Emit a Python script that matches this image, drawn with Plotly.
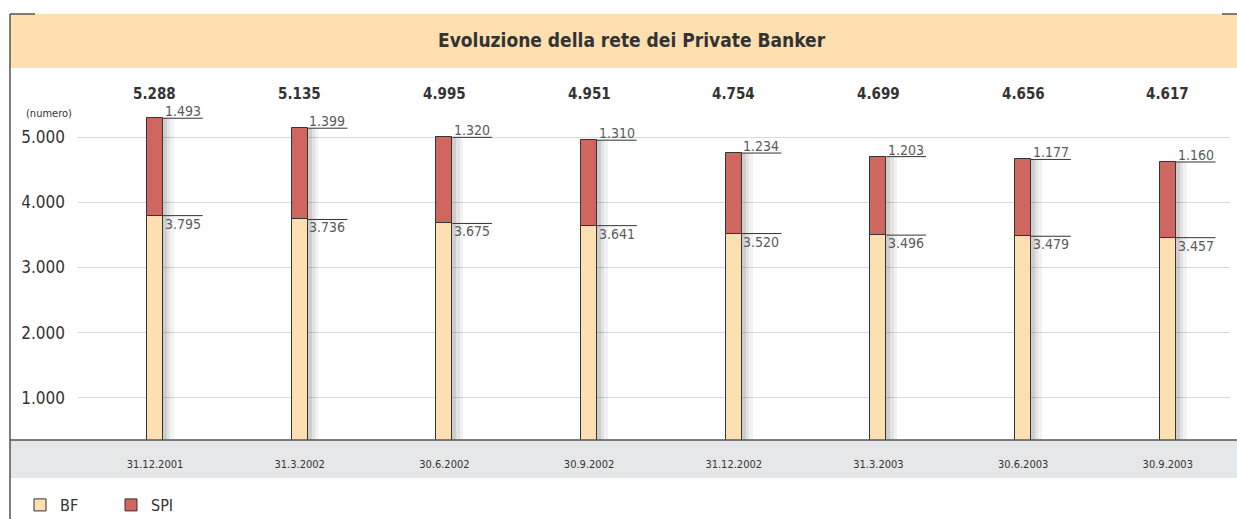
import plotly.graph_objects as go

categories = ["31.12.2001", "31.3.2002", "30.6.2002", "30.9.2002",
              "31.12.2002", "31.3.2003", "30.6.2003", "30.9.2003"]
bf_values = [3795, 3736, 3675, 3641, 3520, 3496, 3479, 3457]
spi_values = [1493, 1399, 1320, 1310, 1234, 1203, 1177, 1160]
totals = [5288, 5135, 4995, 4951, 4754, 4699, 4656, 4617]
y_ticks = [1000, 2000, 3000, 4000, 5000]

BF_COLOR = "#FDE0B2"
SPI_COLOR = "#CF6660"
BANNER = "#FDDFB0"
BAND = "#E6E7E8"
DARK = "#333333"
LABEL = "#5A5A5A"
FONT = "Liberation Sans Narrow, DejaVu Sans Condensed, Arial Narrow, Arial, sans-serif"

W, H = 1237, 519
L, R, T, B = 78, 7, 70, 79
PW, PH = W - L - R, H - T - B


def px_x(px):
    return (px - L) / PW


def px_y(py):
    return (H - B - py) / PH


def fmt(v):
    return f"{v:,}".replace(",", ".")


BAR_W = 0.11
fig = go.Figure()

# soft shadow on the right of each bar
for w, a in [(0.075, 0.05), (0.05, 0.06), (0.028, 0.09)]:
    fig.add_trace(go.Bar(x=categories, y=totals, base=0, width=w, offset=BAR_W / 2,
                         marker=dict(color=f"rgba(0,0,0,{a})", line=dict(width=0)),
                         showlegend=False, hoverinfo="skip"))

fig.add_trace(go.Bar(name="BF", x=categories, y=bf_values, width=BAR_W,
                     marker=dict(color=BF_COLOR, line=dict(color=DARK, width=1))))
fig.add_trace(go.Bar(name="SPI", x=categories, y=spi_values, base=bf_values, width=BAR_W,
                     marker=dict(color=SPI_COLOR, line=dict(color=DARK, width=1))))

shapes = []
annotations = []

# banner
shapes.append(dict(type="rect", xref="paper", yref="paper", x0=px_x(10), x1=px_x(1237),
                   y0=px_y(68), y1=px_y(14), fillcolor=BANNER, line=dict(width=0), layer="below"))
# bottom grey band
shapes.append(dict(type="rect", xref="paper", yref="paper", x0=px_x(10), x1=px_x(1237),
                   y0=px_y(478), y1=px_y(440), fillcolor=BAND, line=dict(width=0), layer="below"))
# baseline
shapes.append(dict(type="line", xref="paper", yref="paper", x0=px_x(10), x1=px_x(1237),
                   y0=px_y(440), y1=px_y(440), line=dict(color="#555555", width=1.5)))
# frame: left border and top corners
shapes.append(dict(type="line", xref="paper", yref="paper", x0=px_x(10), x1=px_x(10),
                   y0=px_y(519), y1=px_y(14), line=dict(color="#555555", width=1.5)))
shapes.append(dict(type="line", xref="paper", yref="paper", x0=px_x(10), x1=px_x(35),
                   y0=px_y(14), y1=px_y(14), line=dict(color="#555555", width=1.5)))
shapes.append(dict(type="line", xref="paper", yref="paper", x0=px_x(1222), x1=px_x(1237),
                   y0=px_y(14), y1=px_y(14), line=dict(color="#555555", width=1.5)))

# leader lines and value labels
for i, (bf, spi, tot) in enumerate(zip(bf_values, spi_values, totals)):
    x0 = i + BAR_W / 2
    x1 = i + 0.33
    shapes.append(dict(type="line", xref="x", yref="y", x0=x0, x1=x1, y0=tot, y1=tot,
                       line=dict(color=DARK, width=1)))
    shapes.append(dict(type="line", xref="x", yref="y", x0=x0, x1=x1, y0=bf, y1=bf,
                       line=dict(color=DARK, width=1)))
    annotations.append(dict(x=x1, y=tot, xref="x", yref="y", text=fmt(spi),
                            xanchor="right", yanchor="bottom", showarrow=False, yshift=-3,
                            font=dict(family=FONT, size=14, color=LABEL)))
    annotations.append(dict(x=x1, y=bf, xref="x", yref="y", text=fmt(bf),
                            xanchor="right", yanchor="top", showarrow=False, yshift=2,
                            font=dict(family=FONT, size=14, color=LABEL)))
    annotations.append(dict(x=i, y=px_y(94), xref="x", yref="paper", text=f"<b>{fmt(tot)}</b>",
                            xanchor="center", yanchor="middle", showarrow=False,
                            font=dict(family=FONT, size=15, color=DARK)))

# title
annotations.append(dict(x=px_x(632), y=px_y(40), xref="paper", yref="paper",
                        text="<b>Evoluzione della rete dei Private Banker</b>",
                        showarrow=False, xanchor="center", yanchor="middle",
                        font=dict(family=FONT, size=19, color=DARK)))
# unit label
annotations.append(dict(x=px_x(24), y=px_y(113), xref="paper", yref="paper",
                        text="(numero)", showarrow=False, xanchor="left", yanchor="middle",
                        font=dict(family=FONT, size=11, color=DARK)))

fig.update_layout(
    width=W, height=H,
    margin=dict(l=L, r=R, t=T, b=B, autoexpand=False),
    barmode="overlay",
    bargap=0,
    paper_bgcolor="white",
    plot_bgcolor="white",
    separators=",.",
    shapes=shapes,
    annotations=annotations,
    showlegend=True,
    legend=dict(orientation="h", x=px_x(20), y=px_y(505), xanchor="left", yanchor="middle",
                font=dict(family=FONT, size=16, color=DARK), entrywidth=46,
                entrywidthmode="pixels", itemwidth=30,
                traceorder="normal", bgcolor="rgba(0,0,0,0)"),
    xaxis=dict(type="category", range=[-0.532, 7.43], showgrid=False, showline=False,
               zeroline=False, ticks="", ticklabelstandoff=16,
               tickfont=dict(family=FONT, size=11, color=DARK)),
    yaxis=dict(range=[356, 6027], tickvals=y_ticks, tickformat=",d", showgrid=True,
               gridcolor="#D9D9D9", gridwidth=1, zeroline=False, showline=False,
               ticks="", ticklabelstandoff=12,
               tickfont=dict(family=FONT, size=17, color=DARK)),
)

fig.write_html("out.html", post_script="document.body.style.margin='0px';",
               config={"displayModeBar": False})
